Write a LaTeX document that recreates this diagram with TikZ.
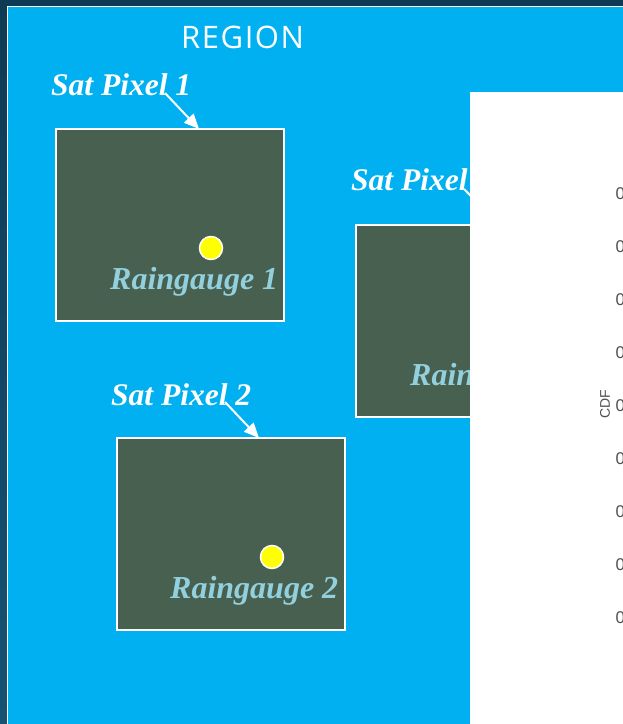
\documentclass[tikz,border=0pt]{standalone}
\usepackage{fontspec}
\setmainfont{Liberation Serif}
\newfontfamily\regionfont[LetterSpace=5]{Open Sans}
\newfontfamily\chartfont{Liberation Sans}
\usetikzlibrary{arrows.meta}
\definecolor{bgdark}{HTML}{0F3A54}
\definecolor{bgdark2}{HTML}{175273}
\definecolor{regblue}{HTML}{00B0F0}
\definecolor{pixgreen}{HTML}{486050}
\definecolor{gaugetxt}{HTML}{92D0DE}
\definecolor{dotyellow}{HTML}{FFFF00}
\definecolor{chartgrey}{HTML}{505050}
\tikzset{
  pixbox/.style={draw=white, line width=1.5pt, fill=pixgreen, minimum width=228pt, minimum height=192pt, anchor=north west, inner sep=0pt},
  gauge/.style={circle, draw=white, line width=1.5pt, fill=dotyellow, minimum size=23pt, inner sep=0pt},
  satlbl/.style={anchor=base west, inner sep=0pt, text=white, font=\fontsize{31.5}{33}\selectfont\bfseries\itshape},
  rglbl/.style={anchor=base west, inner sep=0pt, text=gaugetxt, font=\fontsize{32}{34}\selectfont\bfseries\itshape},
  arr/.style={draw=white, line width=2pt, -{Triangle[length=15pt, width=13pt]}},
  tick/.style={anchor=west, inner sep=0pt, text=chartgrey, font=\chartfont\fontsize{17}{19}\selectfont},
}
\begin{document}
\begin{tikzpicture}[x=1pt, y=-1pt]
\useasboundingbox (0,0) rectangle (623,724);
\clip (0,0) rectangle (623,724);
% background
\shade[top color=bgdark, bottom color=bgdark2] (0,0) rectangle (623,724);
\fill[regblue] (7,6) rectangle (640,740);
\draw[white, line width=1pt] (7,740) -- (7,6) -- (640,6);
% region title
\node[anchor=base west, inner sep=0pt, text=white, font=\regionfont\fontsize{31}{34}\selectfont] (region) at (181,48) {REGION};
% pixels
\node[pixbox] (p1) at (55,128) {};
\node[pixbox] (p2) at (116,437) {};
\node[pixbox] (p3) at (355,224) {};
% gauges
\node[gauge] (g1) at (211,248) {};
\node[gauge] (g2) at (272,557) {};
\node[gauge] (g3) at (511,344) {};
\node[rglbl] (r1) at (110,289) {Raingauge 1};
\node[rglbl] (r2) at (170,598) {Raingauge 2};
\node[rglbl] (r3) at (410,385) {Raingauge 3};
% sat pixel labels
\node[satlbl] (s1) at (51,95) {Sat Pixel 1};
\node[satlbl] (s2) at (111,405) {Sat Pixel 2};
\node[satlbl] (s3) at (351,190) {Sat Pixel 3};
\coordinate (a1) at (165,93);
\coordinate (t1) at (199,129);
\coordinate (a2) at (225,402);
\coordinate (t2) at (259,438);
\coordinate (a3) at (464,189);
\coordinate (t3) at (499,225);
\draw[arr] (a1) -- (t1);
\draw[arr] (a2) -- (t2);
\draw[arr] (a3) -- (t3);
% chart panel
\fill[white] (470,92) rectangle (640,740);
\foreach \k in {0,...,8} {
  \node[tick] (z\k) at (615.5,194+52.9*\k) {0};
}
\node[rotate=90, inner sep=0pt, text=chartgrey, font=\chartfont\fontsize{14}{16}\selectfont] (cdf) at (605,404) {CDF};
\end{tikzpicture}
\end{document}
